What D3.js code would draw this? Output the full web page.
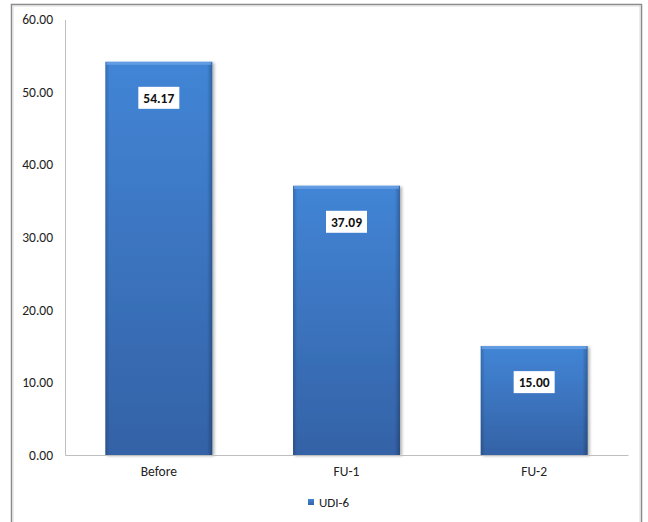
<!DOCTYPE html>
<html>
<head>
<meta charset="utf-8">
<script src="https://cdn.jsdelivr.net/npm/d3@7"></script>
<style>
  html, body { margin: 0; padding: 0; background: #fff; }
  svg { display: block; font-family: Carlito, Lato, "Open Sans", sans-serif; }
</style>
</head>
<body>
<svg id="chart" width="648" height="522"></svg>
<script>
// UDI-6 scores at each visit
const categories = ["Before", "FU-1", "FU-2"];
const udi6 = [54.17, 37.09, 15.00];
const yTicks = [0, 10, 20, 30, 40, 50, 60];
const seriesName = "UDI-6";

const svg = d3.select("#chart");
const W = 648, H = 522;
const plot = { left: 65, right: 628, top: 19.5, bottom: 455 };

// outer chart frame
svg.append("rect")
  .attr("x", 11.5).attr("y", 4.5)
  .attr("width", 630).attr("height", 530)
  .attr("fill", "#fff").attr("stroke", "#8a8a8a").attr("stroke-width", 1.5);
svg.append("rect")
  .attr("x", 13).attr("y", 6)
  .attr("width", 627).attr("height", 530)
  .attr("fill", "none").attr("stroke", "#d9d9d9").attr("stroke-width", 1);

const x = d3.scaleBand().domain(categories)
  .range([plot.left, plot.right]).paddingInner(0.43).paddingOuter(0.215);
const y = d3.scaleLinear().domain([0, 60]).range([plot.bottom, plot.top]);

const defs = svg.append("defs");
const grad = defs.append("linearGradient").attr("id", "barGrad")
  .attr("x1", 0).attr("y1", 0).attr("x2", 0).attr("y2", 1);
grad.append("stop").attr("offset", "0%").attr("stop-color", "#4285d6");
grad.append("stop").attr("offset", "100%").attr("stop-color", "#3462a6");

const sideGrad = defs.append("linearGradient").attr("id", "sideGrad")
  .attr("x1", 0).attr("y1", 0).attr("x2", 1).attr("y2", 0);
sideGrad.append("stop").attr("offset", "0%").attr("stop-color", "#000").attr("stop-opacity", 0.18);
sideGrad.append("stop").attr("offset", "4%").attr("stop-color", "#000").attr("stop-opacity", 0);
sideGrad.append("stop").attr("offset", "95%").attr("stop-color", "#000").attr("stop-opacity", 0);
sideGrad.append("stop").attr("offset", "100%").attr("stop-color", "#000").attr("stop-opacity", 0.25);

const shadow = defs.append("filter").attr("id", "shadow")
  .attr("x", "-10%").attr("y", "-10%").attr("width", "125%").attr("height", "125%");
shadow.append("feDropShadow").attr("dx", 2).attr("dy", 1).attr("stdDeviation", 1.5)
  .attr("flood-color", "#000").attr("flood-opacity", 0.3);

// y axis
const yAxis = svg.append("g")
  .attr("transform", `translate(${plot.left},0)`)
  .call(d3.axisLeft(y).tickValues(yTicks).tickFormat(d3.format(".2f")).tickSize(0).tickPadding(12));
yAxis.select(".domain").attr("stroke", "#bfbfbf");
yAxis.selectAll("text").attr("font-size", 13.5).attr("fill", "#222")
  .attr("font-family", "Carlito, Lato, 'Open Sans', sans-serif");

// bars
const bars = svg.append("g").selectAll("g.bar")
  .data(categories.map((c, i) => ({ c, v: udi6[i] })))
  .join("g").attr("class", "bar");

bars.append("rect")
  .attr("x", d => x(d.c)).attr("y", d => y(d.v))
  .attr("width", x.bandwidth()).attr("height", d => y(0) - y(d.v))
  .attr("fill", "url(#barGrad)").attr("filter", "url(#shadow)");
bars.append("rect")
  .attr("x", d => x(d.c)).attr("y", d => y(d.v))
  .attr("width", x.bandwidth()).attr("height", d => y(0) - y(d.v))
  .attr("fill", "url(#sideGrad)");
// top bevel highlight
bars.append("rect")
  .attr("x", d => x(d.c) + 1).attr("y", d => y(d.v))
  .attr("width", x.bandwidth() - 2).attr("height", 3)
  .attr("fill", "#6aa3e6").attr("opacity", 0.8);

// value labels
const fmt = d3.format(".2f");
bars.append("rect")
  .attr("x", d => x(d.c) + x.bandwidth() / 2 - 20.5)
  .attr("y", d => y(d.v) + 25)
  .attr("width", 41).attr("height", 22)
  .attr("fill", "#fff");
bars.append("text")
  .attr("x", d => x(d.c) + x.bandwidth() / 2)
  .attr("y", d => y(d.v) + 36)
  .attr("dy", "0.35em")
  .attr("text-anchor", "middle")
  .attr("font-weight", "bold").attr("font-size", 13.5).attr("fill", "#111")
  .text(d => fmt(d.v));

// x axis
const xAxis = svg.append("g")
  .attr("transform", `translate(0,${plot.bottom})`)
  .call(d3.axisBottom(x).tickSize(0).tickPadding(11));
xAxis.select(".domain").attr("stroke", "#bfbfbf");
xAxis.selectAll("text").attr("font-size", 13.5).attr("fill", "#222")
  .attr("font-family", "Carlito, Lato, 'Open Sans', sans-serif");

// legend
const legend = svg.append("g").attr("transform", "translate(308,499)");
legend.append("rect").attr("width", 6).attr("height", 6).attr("fill", "url(#barGrad)");
legend.append("text").attr("x", 11).attr("y", 3).attr("dy", "0.35em")
  .attr("font-size", 13).attr("fill", "#222").text(seriesName);
</script>
</body>
</html>
